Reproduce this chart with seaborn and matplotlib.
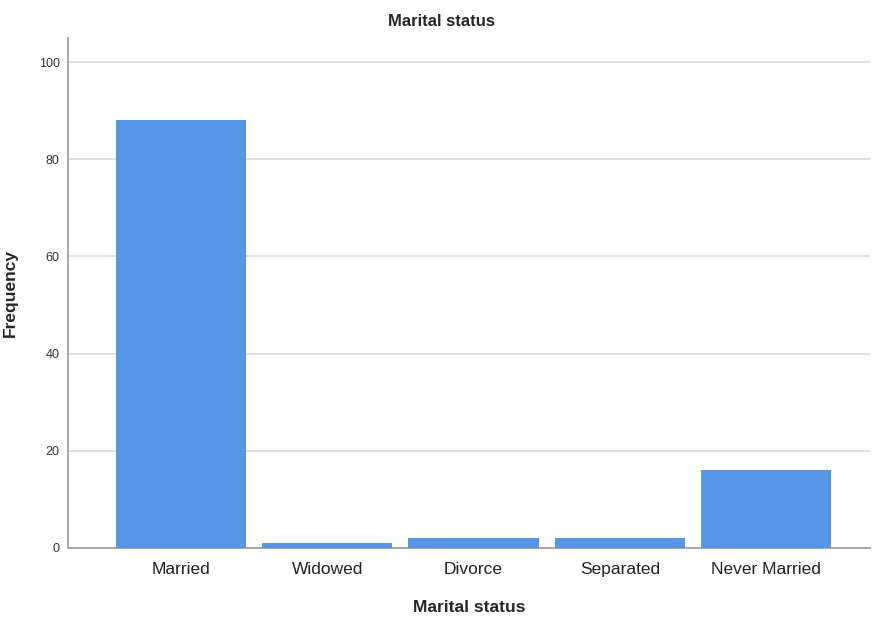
import matplotlib
matplotlib.use('Agg')
import matplotlib.pyplot as plt
import seaborn as sns
import pandas as pd

categories = ['Married', 'Widowed', 'Divorce', 'Separated', 'Never Married']
frequency = [88, 1, 2, 2, 16]
yticks = [0, 20, 40, 60, 80, 100]

df = pd.DataFrame({'Marital status': categories, 'Frequency': frequency})

sns.set_style('white')
plt.rcParams['font.family'] = ['Liberation Sans', 'DejaVu Sans']

fig = plt.figure(figsize=(8.72, 6.21), dpi=100)
ax = fig.add_axes([0.078, 0.1176, 0.92, 0.8214])

sns.barplot(data=df, x='Marital status', y='Frequency', color='#5596E6',
            saturation=1, width=0.89, linewidth=0, ax=ax, zorder=3)

ax.set_ylim(0, 105)
ax.set_xlim(-0.77, 4.71)
ax.set_yticks(yticks)
ax.yaxis.grid(True, color='#d9d9d9', linewidth=1.2, zorder=0)
ax.set_axisbelow(True)
for s in ['top', 'right']:
    ax.spines[s].set_visible(False)
for s in ['left', 'bottom']:
    ax.spines[s].set_color('#999999')
    ax.spines[s].set_linewidth(1.2)
ax.tick_params(axis='y', labelsize=9, length=3, color='#999999', pad=3,
               labelcolor='#333333')
ax.tick_params(axis='x', labelsize=12.5, length=0, pad=10, labelcolor='#222222')

# title sits centred on the figure, not on the axes
fig.suptitle('Marital status', x=0.506, y=0.978, fontsize=12, fontweight='bold')
ax.set_xlabel('Marital status', fontsize=12.5, fontweight='bold', labelpad=17)
ax.set_ylabel('Frequency', fontsize=12.5, fontweight='bold')
ax.yaxis.set_label_coords(-0.062, 0.5)

plt.savefig('out.png', dpi=100)
plt.close()
